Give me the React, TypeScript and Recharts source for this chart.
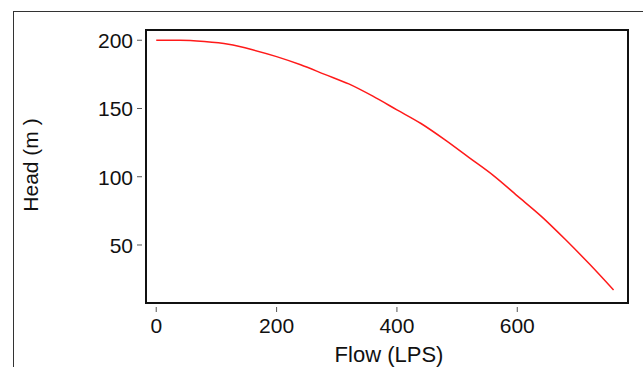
import { Line, LineChart, ReferenceArea, XAxis, YAxis } from 'recharts';

// pump curve
const flow = [0, 40, 80, 120, 160, 200, 240, 280, 320, 360, 400, 440, 480, 520, 560, 600, 640, 680, 720, 760];
const head = [200, 200, 199, 197, 193, 188, 182, 175, 168, 159, 149, 139, 127, 114, 101, 86, 71, 54, 36, 17];
const flowTicks = [0, 200, 400, 600];
const headTicks = [50, 100, 150, 200];

const data = flow.map((q, i) => ({ flow: q, head: head[i] }));

const FONT = '"Liberation Sans", Arial, sans-serif';

const XTick = ({ x, y, payload }: any) => (
  <g>
    <line x1={x} x2={x} y1={y + 4} y2={y + 9} stroke="#555" strokeWidth={1} />
    <text x={x} y={y + 30} textAnchor="middle" fontSize={21} fontFamily={FONT} fill="#111">
      {payload.value}
    </text>
  </g>
);

const YTick = ({ x, y, payload }: any) => (
  <g>
    <line x1={x - 9} x2={x - 4} y1={y} y2={y} stroke="#555" strokeWidth={1} />
    <text x={x - 13} y={y + 8} textAnchor="end" fontSize={21} fontFamily={FONT} fill="#111">
      {payload.value}
    </text>
  </g>
);

export default function App() {
  return (
    <div style={{ position: 'fixed', left: 0, top: 0, width: 643, height: 367, background: '#fff' }}>
      <div style={{ position: 'absolute', left: 13, top: 11, right: 0, height: 0, borderTop: '1.5px solid #333' }} />
      <div style={{ position: 'absolute', left: 13, top: 11, bottom: 0, width: 0, borderLeft: '1.5px solid #333' }} />
      <LineChart width={643} height={367} data={data} margin={{ top: 30, right: 15, left: 0, bottom: 0 }}>
        <XAxis
          dataKey="flow"
          type="number"
          domain={[-17, 784]}
          ticks={flowTicks}
          allowDataOverflow
          axisLine={false}
          tickLine={false}
          tickSize={0}
          tickMargin={0}
          height={64}
          tick={<XTick />}
        />
        <YAxis
          type="number"
          domain={[7.5, 207.5]}
          ticks={headTicks}
          allowDataOverflow
          axisLine={false}
          tickLine={false}
          tickSize={0}
          tickMargin={0}
          width={146}
          tick={<YTick />}
        />
        <ReferenceArea x1={-17} x2={784} y1={7.5} y2={207.5} fill="#fff" fillOpacity={1} stroke="#111" strokeWidth={2} />
        <Line
          type="monotone"
          dataKey="head"
          stroke="#ff1a1a"
          strokeWidth={1.5}
          dot={false}
          isAnimationActive={false}
        />
      </LineChart>
      <div
        style={{
          position: 'absolute',
          left: 389,
          top: 342,
          transform: 'translateX(-50%)',
          fontFamily: FONT,
          fontSize: 22,
          color: '#111',
          whiteSpace: 'nowrap',
          lineHeight: '25px',
        }}
      >
        Flow (LPS)
      </div>
      <div
        style={{
          position: 'absolute',
          left: 31,
          top: 165,
          transform: 'translate(-50%, -50%) rotate(-90deg)',
          fontFamily: FONT,
          fontSize: 21,
          color: '#111',
          whiteSpace: 'nowrap',
          lineHeight: '24px',
        }}
      >
        Head (m )
      </div>
    </div>
  );
}
